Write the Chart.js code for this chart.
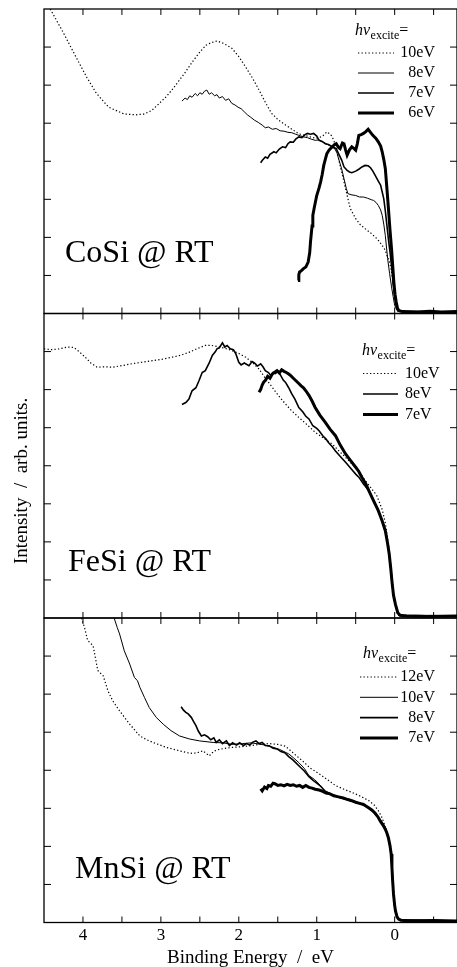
<!DOCTYPE html>
<html>
<head>
<meta charset="utf-8">
<script src="https://cdn.jsdelivr.net/npm/chart.js@4.4.1/dist/chart.umd.min.js"></script>
<style>
html,body{margin:0;padding:0;background:#fff;}
canvas{display:block;}
</style>
</head>
<body>
<canvas id="c" width="457" height="967"></canvas>
<script>
// ---------------- data (Binding energy [eV], intensity [arb.]) ----------------
const xTickValues = [4, 3, 2, 1, 0];
const xTickLabels = ['4', '3', '2', '1', '0'];
const xMinorTickValues = [4.0, 3.5, 3.0, 2.5, 2.0, 1.5, 1.0, 0.5, 0.0, -0.5];
const yTickValues = [1, 2, 3, 4, 5, 6, 7];
const panelNames = ['CoSi @ RT', 'FeSi @ RT', 'MnSi @ RT'];
const coLabels = ['10eV', '8eV', '7eV', '6eV'];
const feLabels = ['10eV', '8eV', '7eV'];
const mnLabels = ['12eV', '10eV', '8eV', '7eV'];

const coSi10 = [[4.42,8.0],[4.25,7.37],[4.09,6.74],[3.95,6.2],[3.83,5.79],[3.67,5.42],[3.47,5.24],[3.32,5.22],[3.22,5.24],[3.12,5.33],[3.03,5.5],[2.92,5.72],[2.81,6.0],[2.70,6.3],[2.60,6.6],[2.50,6.87],[2.42,7.05],[2.35,7.12],[2.28,7.16],[2.20,7.1],[2.09,6.97],[2.00,6.75],[1.91,6.47],[1.82,6.17],[1.74,5.87],[1.66,5.55],[1.58,5.26],[1.49,5.08],[1.40,4.95],[1.31,4.83],[1.23,4.72],[1.12,4.66],[1.01,4.6],[0.93,4.65],[0.87,4.77],[0.82,4.7],[0.78,4.55],[0.74,4.25],[0.70,3.89],[0.66,3.55],[0.63,3.28],[0.57,2.76],[0.50,2.49],[0.44,2.33],[0.38,2.23],[0.31,2.12],[0.25,2.01],[0.20,1.9],[0.16,1.79],[0.12,1.66],[0.10,1.53],[0.07,1.4],[0.05,1.2],[0.03,0.95],[0.01,0.65],[-0.01,0.35],[-0.03,0.12],[-0.06,0.05],[-0.2,0.04],[-0.5,0.05],[-0.8,0.04]];
const coSi8 = [[2.73,5.58],[2.69,5.66],[2.66,5.62],[2.63,5.72],[2.60,5.68],[2.56,5.78],[2.53,5.72],[2.50,5.80],[2.47,5.76],[2.44,5.84],[2.41,5.87],[2.38,5.76],[2.35,5.80],[2.31,5.72],[2.28,5.75],[2.25,5.66],[2.21,5.70],[2.17,5.60],[2.13,5.64],[2.09,5.52],[2.05,5.48],[2.01,5.42],[1.97,5.38],[1.93,5.30],[1.89,5.22],[1.85,5.16],[1.80,5.08],[1.75,5.02],[1.70,4.95],[1.66,4.88],[1.62,4.90],[1.57,4.84],[1.52,4.86],[1.47,4.80],[1.42,4.79],[1.37,4.76],[1.32,4.75],[1.27,4.71],[1.23,4.68],[1.17,4.64],[1.12,4.62],[1.07,4.58],[1.02,4.55],[0.97,4.56],[0.92,4.50],[0.87,4.45],[0.82,4.40],[0.77,4.33],[0.74,4.22],[0.72,4.07],[0.68,3.8],[0.65,3.54],[0.62,3.28],[0.60,3.15],[0.56,3.12],[0.50,3.10],[0.45,3.06],[0.40,3.06],[0.35,3.03],[0.30,2.99],[0.27,2.97],[0.24,2.92],[0.21,2.84],[0.18,2.72],[0.16,2.58],[0.14,2.35],[0.12,2.05],[0.09,1.44],[0.065,1.05],[0.04,0.7],[0.02,0.45],[0.0,0.22],[-0.03,0.08],[-0.06,0.05],[-0.8,0.04]];
const coSi7 = [[1.72,3.96],[1.70,4.02],[1.66,4.11],[1.63,4.08],[1.60,4.18],[1.55,4.25],[1.52,4.22],[1.48,4.32],[1.44,4.38],[1.40,4.36],[1.37,4.46],[1.34,4.51],[1.30,4.50],[1.27,4.58],[1.23,4.64],[1.19,4.62],[1.15,4.70],[1.12,4.73],[1.08,4.71],[1.04,4.73],[1.00,4.66],[0.97,4.55],[0.93,4.52],[0.89,4.46],[0.85,4.44],[0.80,4.38],[0.75,4.33],[0.72,4.2],[0.68,4.03],[0.65,3.85],[0.61,3.76],[0.58,3.72],[0.55,3.70],[0.50,3.74],[0.46,3.79],[0.42,3.85],[0.38,3.89],[0.34,3.88],[0.31,3.83],[0.28,3.74],[0.25,3.63],[0.21,3.48],[0.18,3.37],[0.14,3.02],[0.12,2.7],[0.10,2.32],[0.08,1.95],[0.055,1.53],[0.03,1.05],[0.02,0.8],[0.0,0.45],[-0.02,0.2],[-0.05,0.06],[-0.8,0.04]];
const coSi6 = [[1.24,0.87],[1.23,1.02],[1.22,1.09],[1.20,1.12],[1.17,1.18],[1.14,1.22],[1.11,1.35],[1.09,1.6],[1.08,1.88],[1.06,2.3],[1.05,2.58],[1.03,2.8],[1.00,3.1],[0.97,3.3],[0.95,3.46],[0.93,3.65],[0.91,3.89],[0.89,4.05],[0.87,4.2],[0.84,4.3],[0.80,4.38],[0.77,4.44],[0.75,4.46],[0.72,4.36],[0.70,4.33],[0.67,4.48],[0.65,4.46],[0.63,4.30],[0.61,4.16],[0.58,4.30],[0.55,4.38],[0.52,4.33],[0.50,4.29],[0.48,4.45],[0.46,4.68],[0.43,4.70],[0.40,4.73],[0.37,4.78],[0.34,4.84],[0.31,4.76],[0.28,4.68],[0.24,4.60],[0.21,4.51],[0.18,4.40],[0.16,4.25],[0.14,4.05],[0.12,3.81],[0.10,3.3],[0.08,2.76],[0.06,2.2],[0.04,1.70],[0.025,1.25],[0.01,0.82],[-0.005,0.5],[-0.02,0.3],[-0.035,0.15],[-0.05,0.08],[-0.1,0.05],[-0.3,0.04],[-0.45,0.06],[-0.6,0.04],[-0.8,0.05]];

const feSi10 = [[4.50,7.07],[4.40,7.05],[4.31,7.07],[4.20,7.12],[4.12,7.11],[4.05,7.0],[3.97,6.85],[3.90,6.7],[3.82,6.59],[3.72,6.6],[3.62,6.59],[3.50,6.63],[3.37,6.68],[3.24,6.72],[3.11,6.76],[2.98,6.80],[2.86,6.85],[2.75,6.9],[2.64,6.98],[2.53,7.08],[2.43,7.16],[2.35,7.16],[2.26,7.13],[2.17,7.08],[2.09,7.03],[2.00,6.95],[1.91,6.85],[1.82,6.7],[1.74,6.54],[1.66,6.3],[1.57,6.06],[1.49,5.84],[1.40,5.62],[1.32,5.44],[1.23,5.27],[1.12,5.07],[1.02,4.88],[0.91,4.72],[0.80,4.57],[0.72,4.40],[0.63,4.22],[0.55,4.05],[0.46,3.87],[0.38,3.62],[0.29,3.38],[0.23,3.22],[0.16,2.85],[0.12,2.5],[0.08,1.94],[0.055,1.5],[0.035,1.06],[0.01,0.6],[-0.01,0.36],[-0.03,0.15],[-0.05,0.07],[-0.8,0.05]];
const feSi8 = [[2.73,5.61],[2.68,5.66],[2.64,5.75],[2.60,5.97],[2.55,6.05],[2.51,6.24],[2.47,6.45],[2.43,6.50],[2.38,6.7],[2.34,6.9],[2.30,7.0],[2.28,7.07],[2.25,7.1],[2.21,7.23],[2.18,7.12],[2.15,7.16],[2.11,7.07],[2.07,7.05],[2.04,6.95],[2.00,6.72],[1.97,6.65],[1.93,6.70],[1.87,6.63],[1.83,6.74],[1.80,6.70],[1.76,6.62],[1.72,6.68],[1.69,6.60],[1.66,6.5],[1.62,6.45],[1.59,6.37],[1.56,6.45],[1.53,6.42],[1.50,6.48],[1.47,6.40],[1.43,6.25],[1.40,6.19],[1.36,6.05],[1.32,5.89],[1.28,5.75],[1.23,5.53],[1.18,5.42],[1.14,5.30],[1.10,5.23],[1.05,5.05],[1.00,4.98],[0.97,4.92],[0.92,4.78],[0.88,4.70],[0.85,4.61],[0.80,4.5],[0.76,4.39],[0.70,4.25],[0.63,4.09],[0.57,3.95],[0.50,3.78],[0.46,3.70],[0.40,3.52],[0.33,3.34],[0.27,3.1],[0.21,2.82],[0.16,2.55],[0.12,2.29],[0.09,1.95],[0.07,1.68],[0.05,1.3],[0.035,0.97],[0.015,0.6],[-0.01,0.36],[-0.04,0.14],[-0.07,0.07],[-0.8,0.05]];
const feSi7 = [[1.74,5.93],[1.72,6.0],[1.70,6.12],[1.68,6.2],[1.66,6.24],[1.63,6.35],[1.60,6.30],[1.57,6.41],[1.54,6.46],[1.51,6.5],[1.48,6.44],[1.45,6.52],[1.42,6.48],[1.39,6.45],[1.36,6.41],[1.33,6.36],[1.30,6.30],[1.27,6.24],[1.24,6.18],[1.20,6.10],[1.17,6.05],[1.14,5.97],[1.10,5.85],[1.06,5.7],[1.02,5.53],[0.96,5.33],[0.89,5.14],[0.83,4.96],[0.76,4.79],[0.70,4.55],[0.63,4.31],[0.57,4.15],[0.50,3.96],[0.46,3.85],[0.42,3.69],[0.37,3.52],[0.33,3.34],[0.27,3.08],[0.21,2.82],[0.16,2.55],[0.12,2.29],[0.09,1.95],[0.07,1.68],[0.05,1.3],[0.035,0.97],[0.015,0.6],[-0.01,0.36],[-0.04,0.14],[-0.07,0.07],[-0.15,0.05],[-0.4,0.04],[-0.8,0.05]];

const mnSi12 = [[4.02,8.0],[3.98,7.75],[3.94,7.41],[3.87,7.27],[3.84,6.95],[3.81,6.62],[3.74,6.48],[3.68,6.09],[3.62,5.83],[3.53,5.56],[3.40,5.21],[3.27,4.9],[3.18,4.8],[3.10,4.73],[2.93,4.6],[2.76,4.51],[2.66,4.46],[2.59,4.44],[2.52,4.47],[2.46,4.51],[2.38,4.38],[2.32,4.5],[2.25,4.55],[2.16,4.58],[2.08,4.60],[1.96,4.62],[1.86,4.64],[1.74,4.68],[1.61,4.70],[1.50,4.68],[1.40,4.63],[1.30,4.45],[1.19,4.26],[1.08,4.05],[0.97,3.91],[0.86,3.75],[0.76,3.6],[0.65,3.5],[0.55,3.42],[0.44,3.32],[0.33,3.2],[0.26,3.08],[0.21,2.94],[0.16,2.75],[0.12,2.5],[0.09,2.25],[0.055,1.97],[0.03,1.3],[0.01,0.6],[-0.01,0.3],[-0.04,0.12],[-0.07,0.06],[-0.8,0.04]];
const mnSi10 = [[3.60,8.0],[3.56,7.75],[3.53,7.58],[3.47,7.14],[3.40,6.79],[3.34,6.44],[3.30,6.35],[3.27,6.18],[3.21,5.91],[3.15,5.65],[3.06,5.39],[2.97,5.21],[2.87,5.04],[2.76,4.9],[2.63,4.82],[2.50,4.77],[2.33,4.73],[2.20,4.72],[2.09,4.68],[1.95,4.70],[1.84,4.72],[1.74,4.69],[1.66,4.66],[1.57,4.61],[1.48,4.55],[1.40,4.47],[1.36,4.43],[1.30,4.33],[1.23,4.20],[1.16,4.05],[1.10,3.86],[1.03,3.76],[0.97,3.64],[0.89,3.42],[0.80,3.35],[0.72,3.29],[0.61,3.22],[0.50,3.16],[0.42,3.10],[0.33,3.03],[0.27,2.92],[0.21,2.76],[0.16,2.62],[0.12,2.5],[0.08,2.24],[0.06,2.0],[0.04,1.8],[0.026,1.1],[0.01,0.6],[-0.01,0.31],[-0.04,0.12],[-0.07,0.07],[-0.8,0.04]];
const mnSi8 = [[2.74,5.67],[2.71,5.58],[2.68,5.52],[2.65,5.48],[2.61,5.39],[2.58,5.28],[2.55,5.17],[2.52,5.03],[2.48,4.9],[2.44,4.93],[2.40,4.88],[2.36,4.80],[2.32,4.85],[2.29,4.73],[2.25,4.80],[2.21,4.70],[2.16,4.77],[2.12,4.65],[2.08,4.72],[2.03,4.66],[1.99,4.72],[1.94,4.65],[1.90,4.70],[1.86,4.66],[1.82,4.74],[1.78,4.77],[1.74,4.70],[1.70,4.73],[1.66,4.65],[1.61,4.64],[1.56,4.58],[1.51,4.56],[1.46,4.49],[1.41,4.46],[1.36,4.36],[1.31,4.28],[1.26,4.18],[1.21,4.08],[1.16,3.98],[1.10,3.83],[1.05,3.74],[1.00,3.66],[0.95,3.58],[0.89,3.45],[0.80,3.36],[0.72,3.29],[0.61,3.23],[0.50,3.15],[0.42,3.11],[0.33,3.02],[0.27,2.90],[0.21,2.76],[0.16,2.62],[0.12,2.48],[0.08,2.24],[0.06,2.0],[0.04,1.8],[0.026,1.1],[0.01,0.6],[-0.01,0.31],[-0.04,0.12],[-0.07,0.07],[-0.8,0.04]];
const mnSi7 = [[1.72,3.51],[1.70,3.46],[1.67,3.56],[1.64,3.52],[1.62,3.60],[1.59,3.58],[1.56,3.66],[1.53,3.64],[1.50,3.60],[1.46,3.62],[1.42,3.59],[1.38,3.63],[1.34,3.60],[1.30,3.62],[1.26,3.58],[1.22,3.60],[1.18,3.55],[1.14,3.60],[1.10,3.55],[1.06,3.53],[1.02,3.50],[0.97,3.48],[0.93,3.45],[0.88,3.40],[0.83,3.38],[0.78,3.33],[0.72,3.30],[0.66,3.27],[0.60,3.23],[0.55,3.20],[0.50,3.16],[0.45,3.13],[0.40,3.10],[0.36,3.05],[0.33,3.01],[0.29,2.95],[0.25,2.87],[0.21,2.76],[0.18,2.65],[0.15,2.56],[0.12,2.45],[0.10,2.35],[0.08,2.22],[0.06,2.02],[0.045,1.8],[0.035,1.45],[0.026,1.1],[0.015,0.75],[0.0,0.45],[-0.01,0.31],[-0.03,0.15],[-0.05,0.09],[-0.08,0.06],[-0.2,0.04],[-0.5,0.05],[-0.8,0.04]];

// ---------------- chart ----------------
const FONT = "'Liberation Serif', 'Times New Roman', serif";
Chart.defaults.font.family = FONT;
Chart.defaults.color = '#000';

const pts = (pairs) => pairs.map(p => ({x: p[0], y: p[1]}));
const DOTTED = {borderWidth: 1.2, borderDash: [1.3, 2.2]};
const THIN = {borderWidth: 1.0, borderDash: []};
const MEDIUM = {borderWidth: 1.6, borderDash: []};
const THICK = {borderWidth: 3, borderDash: []};

function ds(label, axis, pairs, style, order) {
  return Object.assign({
    label: label, yAxisID: axis, data: pts(pairs),
    borderColor: '#000', backgroundColor: '#000',
    pointRadius: 0, fill: false, tension: 0, order: order
  }, style);
}

const datasets = [
  ds(coLabels[0], 'yCo', coSi10, DOTTED, 4),
  ds(coLabels[1], 'yCo', coSi8, THIN, 3),
  ds(coLabels[2], 'yCo', coSi7, MEDIUM, 2),
  ds(coLabels[3], 'yCo', coSi6, THICK, 1),
  ds(feLabels[0], 'yFe', feSi10, DOTTED, 4),
  ds(feLabels[1], 'yFe', feSi8, MEDIUM, 3),
  ds(feLabels[2], 'yFe', feSi7, THICK, 1),
  ds(mnLabels[0], 'yMn', mnSi12, DOTTED, 4),
  ds(mnLabels[1], 'yMn', mnSi10, THIN, 3),
  ds(mnLabels[2], 'yMn', mnSi8, MEDIUM, 2),
  ds(mnLabels[3], 'yMn', mnSi7, THICK, 1)
];

// annotation layout per panel (offsets from panel top-left)
const panelLayout = [
  {axis: 'yCo', name: panelNames[0], labelDx: 21, labelDy: 253, headX: 355, headDy: 26, entryDy: 44, entryStep: 20, lineX0: 358, lineX1: 394, textX: 435, textAlign: 'right'},
  {axis: 'yFe', name: panelNames[1], labelDx: 24, labelDy: 257, headX: 362, headDy: 41, entryDy: 60, entryStep: 20.5, lineX0: 363, lineX1: 398, textX: 405, textAlign: 'left'},
  {axis: 'yMn', name: panelNames[2], labelDx: 31, labelDy: 260, headX: 363, headDy: 40, entryDy: 59, entryStep: 20.3, lineX0: 360, lineX1: 398, textX: 435, textAlign: 'right'}
];

const framePlugin = {
  id: 'framePlugin',
  afterDraw(chart) {
    const ctx = chart.ctx;
    const xs = chart.scales.x;
    const area = chart.chartArea;
    ctx.save();
    ctx.strokeStyle = '#000';
    ctx.fillStyle = '#000';
    const seg = (x0, y0, x1, y1) => { ctx.beginPath(); ctx.moveTo(x0, y0); ctx.lineTo(x1, y1); ctx.stroke(); };

    panelLayout.forEach(p => {
      const ys = chart.scales[p.axis];
      const top = ys.top, bottom = ys.bottom;
      ctx.lineWidth = 1.3;
      ctx.setLineDash([]);
      ctx.strokeRect(area.left, top, area.right - area.left, bottom - top);
      ctx.lineWidth = 1;
      yTickValues.forEach(v => {
        const y = ys.getPixelForValue(v);
        seg(area.left, y, area.left + 7, y);
        seg(area.right - 7, y, area.right, y);
      });
      xMinorTickValues.forEach(v => {
        const x = xs.getPixelForValue(v);
        seg(x, top, x, top + 6);
        seg(x, bottom - 6, x, bottom);
      });

      // panel name
      ctx.font = '32px ' + FONT;
      ctx.textAlign = 'left';
      ctx.textBaseline = 'alphabetic';
      ctx.fillText(p.name, area.left + p.labelDx, top + p.labelDy);

      // legend header: hv_excite=
      const hy = top + p.headDy;
      ctx.font = 'italic 16px ' + FONT;
      ctx.fillText('hv', p.headX, hy);
      let hx = p.headX + ctx.measureText('hv').width + 0.5;
      ctx.font = '12px ' + FONT;
      ctx.fillText('excite', hx, hy + 4);
      hx += ctx.measureText('excite').width;
      ctx.font = '16px ' + FONT;
      ctx.fillText('=', hx, hy);

      // legend entries from datasets of this panel
      const metas = chart.data.datasets.filter(d => d.yAxisID === p.axis);
      metas.forEach((d, i) => {
        const y = top + p.entryDy + i * p.entryStep;
        ctx.lineWidth = d.borderWidth;
        ctx.setLineDash(d.borderDash || []);
        seg(p.lineX0, y, p.lineX1, y);
        ctx.setLineDash([]);
        ctx.font = '16px ' + FONT;
        ctx.textAlign = p.textAlign;
        ctx.textBaseline = 'middle';
        ctx.fillText(d.label, p.textX, y);
        ctx.textAlign = 'left';
        ctx.textBaseline = 'alphabetic';
      });
    });

    // shared y-axis title
    const yFe = chart.scales.yFe;
    ctx.save();
    ctx.translate(22, yFe.getPixelForValue(3.6));
    ctx.rotate(-Math.PI / 2);
    ctx.font = '19px ' + FONT;
    ctx.textAlign = 'center';
    ctx.textBaseline = 'middle';
    ctx.fillText('Intensity  /  arb. units.', 0, 0);
    ctx.restore();
    ctx.restore();
  }
};

const yAxis = () => ({
  type: 'linear', position: 'left', stack: 'panels', stackWeight: 1,
  min: 0, max: 8, offset: false,
  ticks: {display: false}, grid: {display: false, drawTicks: false}, border: {display: false}
});

new Chart(document.getElementById('c'), {
  type: 'line',
  data: {datasets: datasets},
  options: {
    responsive: false, animation: false, devicePixelRatio: 1,
    layout: {padding: {left: 44, right: -2, top: 9, bottom: -2}},
    plugins: {legend: {display: false}, tooltip: {enabled: false}},
    scales: {
      x: {
        type: 'linear', position: 'bottom', reverse: true, min: -0.8, max: 4.5,
        afterBuildTicks: (scale) => { scale.ticks = xTickValues.map(v => ({value: v})); },
        ticks: {
          padding: 3, maxRotation: 0, autoSkip: false, color: '#000',
          font: {size: 17, family: FONT, lineHeight: 1.15},
          callback: (v) => { const i = xTickValues.indexOf(v); return i >= 0 ? xTickLabels[i] : ''; }
        },
        grid: {display: false, drawTicks: false}, border: {display: false},
        title: {display: true, text: 'Binding Energy  /  eV', color: '#000', font: {size: 19, family: FONT, lineHeight: 1.05}, padding: {top: 0, bottom: 1}}
      },
      yMn: yAxis(),
      yFe: yAxis(),
      yCo: yAxis()
    }
  },
  plugins: [framePlugin]
});
</script>
</body>
</html>
